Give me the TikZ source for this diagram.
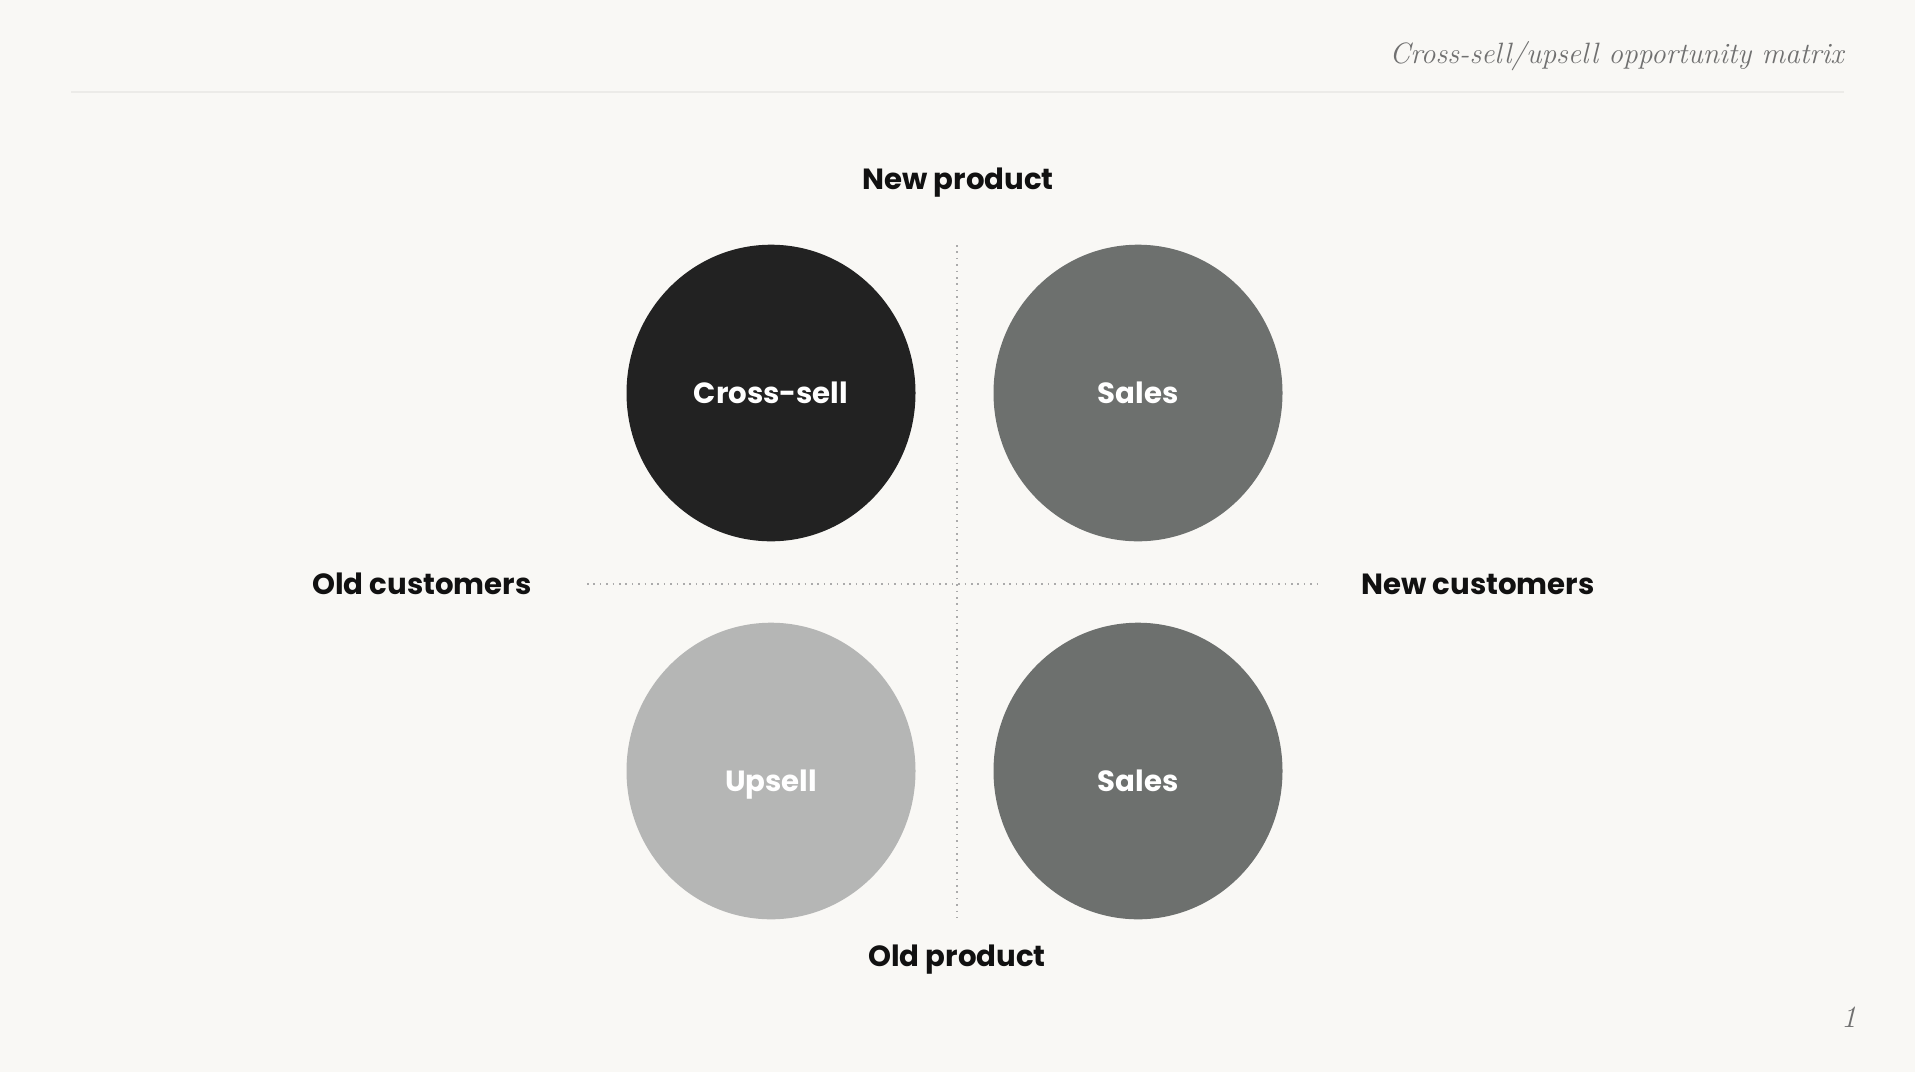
\documentclass[tikz,border=0pt]{standalone}
\usepackage{fontspec}
\newfontfamily\poppins{Poppins}
\usetikzlibrary{positioning,shapes.geometric}
\definecolor{paper}{HTML}{F9F8F5}
\definecolor{darkcircle}{HTML}{222222}
\definecolor{midcircle}{HTML}{6D706E}
\definecolor{lightcircle}{HTML}{B5B6B5}
\definecolor{axisdots}{HTML}{ABABAB}
\definecolor{titlegray}{HTML}{707070}
\definecolor{rulegray}{HTML}{ECEBE8}
\definecolor{labelink}{HTML}{111111}
\begin{document}
\begin{tikzpicture}[x=0.5pt,y=-0.5pt,
    quadrant/.style={ellipse,minimum width=144.5pt,minimum height=148.3pt,inner sep=0pt,
        text=white,text depth=0pt,text height=10.7pt,
        font=\poppins\bfseries\fontsize{14.6}{17}\selectfont},
    lowquadrant/.style={quadrant,text height=20.4pt},
    axislabel/.style={anchor=base,inner sep=0pt,text=labelink,
        font=\poppins\bfseries\fontsize{14.6}{17}\selectfont},
    axisline/.style={axisdots,line width=1.2pt,dash pattern=on 0.8pt off 2.4pt}]

\def\CROSSCOLOR{darkcircle}
\def\SALESCOLOR{midcircle}
\def\UPSELLCOLOR{lightcircle}
	\fill[paper] (0,0) rectangle (1915,1072);
	\useasboundingbox (0,0) rectangle (1915,1072);

	% header
	\node[anchor=base east,inner sep=0pt,text=titlegray,font=\itshape\fontsize{14.7}{17}\selectfont] (title) at (1844,63) {Cross-sell/upsell opportunity matrix};
	\coordinate (ruleleft) at (71,92);
	\coordinate (ruleright) at (1844,92);
	\draw[rulegray,line width=1pt] (ruleleft) -- (ruleright);

	% axes
	\coordinate (axistop) at (957,245);
	\coordinate (axisbottom) at (957,918);
	\coordinate (axisleft) at (587,584);
	\coordinate (axisright) at (1319,584);
	\draw[axisline] (axistop) -- (axisbottom);
	\draw[axisline] (axisleft) -- (axisright);

	% quadrants
	\node[quadrant,fill=\CROSSCOLOR] (crosssell) at (771,393) {Cross-sell};
	\node[quadrant,fill=\SALESCOLOR] (salestop) at (1138,393) {Sales};
	\node[lowquadrant,fill=\UPSELLCOLOR] (upsell) at (771,771) {Upsell};
	\node[lowquadrant,fill=\SALESCOLOR] (salesbottom) at (1138,771) {Sales};

	% axis labels
	\node[axislabel] (newproduct) at (958,189) {New product};
	\node[axislabel] (oldproduct) at (957,966) {Old product};
	\node[axislabel] (oldcustomers) at (422,594) {Old customers};
	\node[axislabel] (newcustomers) at (1478,594) {New customers};

	% page number
	\node[anchor=base east,inner sep=0pt,text=titlegray,font=\itshape\fontsize{15.5}{18}\selectfont] (pagenum) at (1857,1027) {1};

\end{tikzpicture}
\end{document}
